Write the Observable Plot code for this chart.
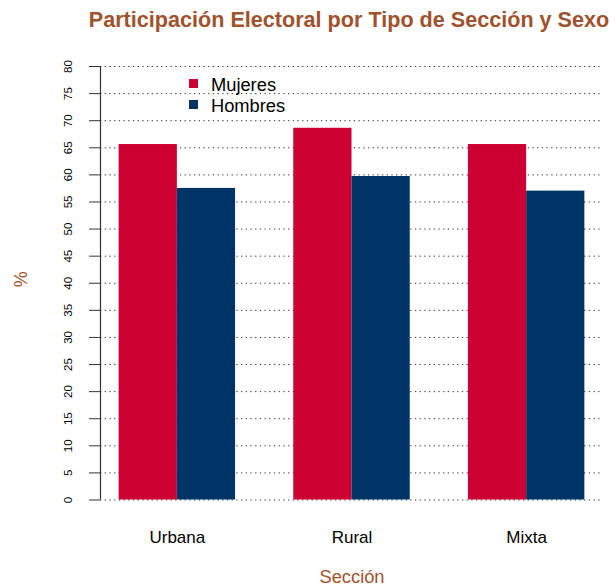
<!DOCTYPE html>
<html>
<head>
<meta charset="utf-8">
<script src="https://cdn.jsdelivr.net/npm/d3@7"></script>
<script src="https://cdn.jsdelivr.net/npm/@observablehq/plot@0.6"></script>
<style>
  html, body { margin: 0; padding: 0; background: #fff; }
  #wrap { position: relative; width: 616px; height: 588px; font-family: 'Liberation Sans', Arial, Helvetica, sans-serif; }
  #title { position: relative; height: 44px; }
  #title span { position: absolute; left: 349px; top: 9px; transform: translateX(-50%); white-space: nowrap;
    font-size: 21.6px; line-height: 21.6px; font-weight: bold; color: #A0522D; }
  #legend { position: absolute; left: 189px; top: 73.5px; }
  .row { position: relative; height: 21.5px; }
  .sw { position: absolute; left: 0; top: 5px; width: 8.5px; height: 9px; }
  .lab { position: absolute; left: 22px; top: 0; font-size: 18.3px; line-height: 21.5px; color: #000; white-space: nowrap; }
  svg { display: block; }
</style>
</head>
<body>
<div id="wrap">
  <div id="title"><span>Participación Electoral por Tipo de Sección y Sexo</span></div>
  <div id="chart"></div>
  <div id="legend"></div>
</div>
<script>
// ---- data ----
const sections = ["Urbana", "Rural", "Mixta"];
const sexes = ["Mujeres", "Hombres"];
const mujeres = [65.6, 68.6, 65.6];
const hombres = [57.5, 59.7, 57.0];
const yTicks = [0, 5, 10, 15, 20, 25, 30, 35, 40, 45, 50, 55, 60, 65, 70, 75, 80];
const colors = ["#CC0033", "#003366"];
const labelColor = "#A0522D";
const yLabel = "%";
const xLabel = "Sección";

// barplot layout (beside = TRUE, space = c(0, 1)): bar slots of width 1
const rows = sections.flatMap((s, i) => [
  {section: s, sex: sexes[0], value: mujeres[i], slot: i * 3 + 1},
  {section: s, sex: sexes[1], value: hombres[i], slot: i * 3 + 2}
]);
const lo = 1, hi = sections.length * 3;
const pad = (hi - lo) * 0.04;
const xDomain = [lo - pad, hi + pad];
const groupCenters = sections.map((s, i) => i * 3 + 2);

const plot = Plot.plot({
  width: 616,
  height: 544,
  marginLeft: 100,
  marginRight: 13,
  marginTop: 22,
  marginBottom: 88.5,
  style: {fontFamily: "'Liberation Sans', Arial, Helvetica, sans-serif", fontSize: "11px", background: "white", color: "#000"},
  x: {type: "linear", domain: xDomain},
  y: {domain: [yTicks[0], yTicks[yTicks.length - 1]]},
  color: {domain: sexes, range: colors},
  marks: [
    Plot.ruleY(yTicks, {stroke: "#333", strokeWidth: 1, strokeDasharray: "1.3,3.4"}),
    Plot.rectY(rows, {x1: "slot", x2: d => d.slot + 1, y: "value", fill: "sex"}),
    Plot.ruleX([xDomain[0]], {y1: yTicks[0], y2: yTicks[yTicks.length - 1], stroke: "#333", strokeWidth: 1.2}),
    Plot.axisY({ticks: yTicks, tickSize: 11, tickPadding: 18, tickRotate: -90, fontSize: 11.5, label: null, stroke: "#333"}),
    Plot.axisX({ticks: groupCenters, tickFormat: d => sections[groupCenters.indexOf(d)], tickSize: 0, tickPadding: 31, fontSize: 17, label: null}),
    Plot.text([yLabel], {frameAnchor: "left", dx: -79, dy: 4, rotate: -90, fontSize: 18, fill: labelColor}),
    Plot.text([xLabel], {frameAnchor: "bottom", dy: 82.5, fontSize: 18.3, fill: labelColor})
  ]
});
document.getElementById("chart").appendChild(plot);

// legend
const leg = document.getElementById("legend");
sexes.forEach((s, i) => {
  const r = document.createElement("div");
  r.className = "row";
  const sw = document.createElement("span");
  sw.className = "sw";
  sw.style.background = colors[i];
  const lab = document.createElement("span");
  lab.className = "lab";
  lab.textContent = s;
  r.appendChild(sw);
  r.appendChild(lab);
  leg.appendChild(r);
});
</script>
</body>
</html>
